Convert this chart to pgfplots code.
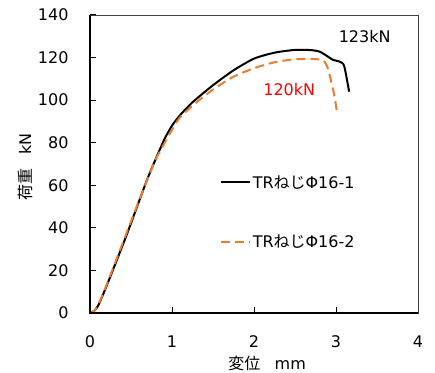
\documentclass[border=0pt]{standalone}
\usepackage{fontspec}
\setmainfont{DejaVu Sans}
\newfontfamily\cjk{Noto Sans CJK JP}
\usepackage{pgfplots}
\pgfplotsset{compat=1.18}
\definecolor{exorange}{HTML}{ED7D31}
\definecolor{axgray}{HTML}{404040}
\begin{document}
\begin{tikzpicture}[font=\fontsize{16}{19}\selectfont]
\begin{axis}[
  name=ax,
  at={(0,0)}, anchor=south west,
  scale only axis,
  width=328pt, height=298pt,
  xmin=0, xmax=4, ymin=0, ymax=140,
  xtick={0,1,2,3,4}, ytick={0,20,...,140},
  tick align=inside,
  xtick pos=bottom, ytick pos=left,
  major tick length=6pt,
  tick style={black, line width=1pt},
  axis line style={axgray, line width=0.9pt},
  /pgf/number format/assume math mode=true,
  xticklabel style={yshift=-19pt},
  yticklabel style={xshift=-18pt},
  xlabel={{\cjk 変位}\hspace{0.9em}mm},
  ylabel={{\cjk 荷重}\hspace{0.9em}kN},
  xlabel style={at={(axis description cs:0.54,-0.168)}, anchor=center},
  ylabel style={at={(axis description cs:-0.198,0.49)}, anchor=center},
  legend cell align=left,
  legend style={draw=none, fill=none, at={(axis cs:1.58,65.7)}, anchor=north west,
    row sep=41pt, inner sep=0pt, font=\fontsize{16}{19}\selectfont},
  legend image code/.code={\draw[#1] (0pt,0pt) -- (29pt,0pt);},
  clip=false,
]
\addplot[black, line width=2pt, smooth, tension=0.4] coordinates {
(0,0) (0.05,1) (0.1,3.5) (0.2,12.5) (0.45,37) (0.7,63) (0.9,81) (1.0,88)
(1.1,93) (1.25,99) (1.5,107) (1.75,114) (2.0,119.5) (2.25,122.3) (2.5,123.6)
(2.7,123.5) (2.8,122.8) (2.88,121) (2.96,119) (3.05,118) (3.1,116) (3.16,104)
};
\addlegendentry{TR{\cjk ねじ}Φ16-1}
\addplot[exorange, line width=2pt, dash pattern=on 9pt off 5pt, smooth, tension=0.4] coordinates {
(0,0) (0.05,1) (0.1,3.8) (0.2,13) (0.4,33) (0.6,53) (0.8,72) (1.0,86) (1.1,92)
(1.3,99) (1.5,105) (1.75,111) (2.0,115) (2.25,117.8) (2.5,119.2) (2.75,119.3)
(2.85,118.5) (2.9,115) (2.94,109) (2.98,102) (3.01,95)
};
\addlegendentry{TR{\cjk ねじ}Φ16-2}
\node[black] at (axis cs:3.35,130) {123kN};
\node[red] at (axis cs:2.43,105) {120kN};
\end{axis}
\draw[black, line width=1.3pt] (0,298pt) -- (0,0) -- (328pt,0);
\pgfresetboundingbox
\path (-90pt,-59pt) rectangle (345pt,313pt);
\end{tikzpicture}
\end{document}
